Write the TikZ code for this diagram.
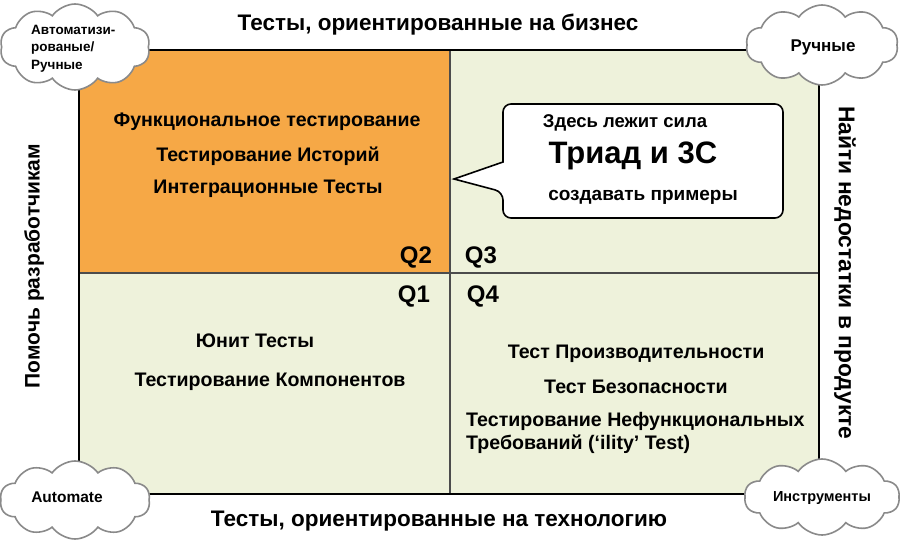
\documentclass[tikz,border=0pt]{standalone}
\usepackage{fontspec}
\setmainfont{Liberation Sans}
\usetikzlibrary{shapes.symbols,shapes.misc}
\definecolor{qorange}{HTML}{F6A846}
\definecolor{qgreen}{HTML}{EEF2DB}
\definecolor{cloudline}{HTML}{8A8A8A}
\tikzset{
  txt/.style={font=\bfseries\fontsize{19.6}{22}\selectfont, inner sep=0pt},
  ttl/.style={font=\bfseries\fontsize{22.5}{25}\selectfont, inner sep=0pt},
  qlab/.style={font=\bfseries\fontsize{24}{26}\selectfont, inner sep=0pt},
  cloudbox/.style={cloud, cloud puffs=10, cloud puff arc=110, aspect=1.8, draw=cloudline, line width=1.6pt, fill=white, inner sep=0pt, font=\bfseries\fontsize{13.5}{17.5}\selectfont, align=left},
}
\begin{document}
\begin{tikzpicture}[x=1pt,y=-1pt]
\useasboundingbox (0,0) rectangle (900,546);
\fill[white] (0,0) rectangle (900,546);
% quadrants
\coordinate (tl) at (79,50);
\coordinate (br) at (819,494);
\coordinate (mid) at (450,273);
\fill[qgreen] (tl) rectangle (br);
\fill[qorange] (tl) rectangle (mid);
\draw[line width=1.2pt, black!70] (450,50) -- (450,494);
\draw[line width=1.2pt, black!70] (79,273) -- (819,273);
\draw[line width=1.6pt] (tl) rectangle (br);
% titles
\node[ttl] (top) at (438,25) {Тесты, ориентированные на бизнес};
\node[ttl] (bot) at (439,521) {Тесты, ориентированные на технологию};
\node[ttl, font=\bfseries\fontsize{21}{24}\selectfont, rotate=90] (left) at (34,266) {Помочь разработчикам};
\node[ttl, font=\bfseries\fontsize{22.8}{26}\selectfont, rotate=-90] (right) at (845,273) {Найти недостатки в продукте};
% Q2 texts
\node[txt] (f1) at (267,122) {Функциональное тестирование};
\node[txt] (f2) at (268,156) {Тестирование Историй};
\node[txt] (f3) at (268,189) {Интеграционные Тесты};
% Q1 texts
\node[txt] (u1) at (255,341) {Юнит Тесты};
\node[txt] (u2) at (270,382) {Тестирование Компонентов};
% Q4 texts
\node[txt] (p1) at (636,354) {Тест Производительности};
\node[txt] (p2) at (636,387) {Тест Безопасности};
\node[txt, anchor=west] (p3) at (466,421) {Тестирование Нефункциональных};
\node[txt, anchor=west] (p4) at (466,444) {Требований (‘ility’ Test)};
% Q labels
\node[qlab] (q2) at (416,257) {Q2};
\node[qlab] (q3) at (481,257) {Q3};
\node[qlab] (q1) at (414,296) {Q1};
\node[qlab] (q4) at (483,296) {Q4};
% callout
\coordinate (tip) at (454,179);
\draw[line width=1.6pt, fill=white, rounded corners=8pt]
  (503,162) -- (503,104) -- (783,104) -- (783,218) -- (503,218) -- (503,192) [sharp corners] -- (tip) -- cycle;
\node[txt, font=\bfseries\fontsize{18.5}{21}\selectfont] (c1) at (625,123) {Здесь лежит сила};
\node[font=\bfseries\fontsize{31}{33}\selectfont, inner sep=0pt] (c2) at (633,156) {Триад и 3С};
\node[txt, font=\bfseries\fontsize{19}{21}\selectfont] (c3) at (643,197) {создавать примеры};
% clouds
\node[cloudbox, minimum width=150pt, minimum height=86pt] (cl1) at (75,47) {};
\node[font=\bfseries\fontsize{13.5}{17.5}\selectfont, align=left, inner sep=0pt, anchor=north west] (cl1t) at (31,25) {Автоматизи-\\рованые/\\Ручные};
\node[cloudbox, minimum width=152pt, minimum height=80pt] (cl2) at (822,45) {};
\node[font=\bfseries\fontsize{17}{19}\selectfont, inner sep=0pt] (cl2t) at (823,47) {Ручные};
\node[cloudbox, minimum width=150pt, minimum height=78pt] (cl3) at (75,500) {};
\node[font=\bfseries\fontsize{15.5}{18}\selectfont, inner sep=0pt] (cl3t) at (67,497) {Automate};
\node[cloudbox, minimum width=155pt, minimum height=76pt] (cl4) at (822,497) {};
\node[font=\bfseries\fontsize{14.5}{17}\selectfont, inner sep=0pt] (cl4t) at (822,498) {Инструменты};
\end{tikzpicture}
\end{document}
